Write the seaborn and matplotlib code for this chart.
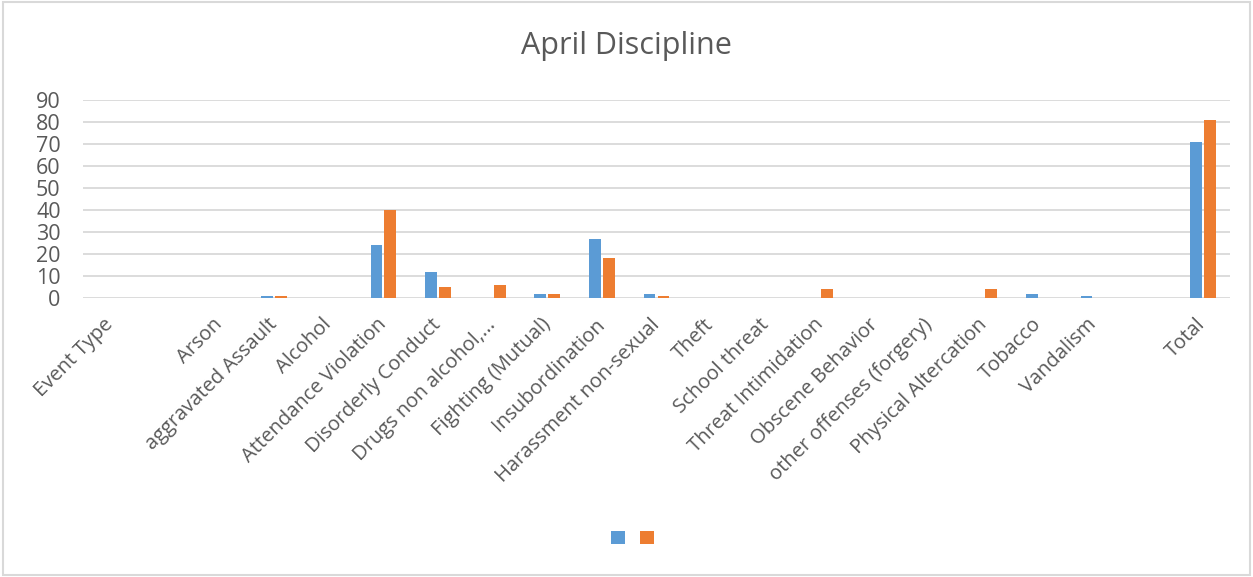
import pandas as pd
import matplotlib.pyplot as plt
import seaborn as sns
from matplotlib.patches import Rectangle, Patch

# Data
categories = ['Event Type', '', 'Arson', 'aggravated Assault', 'Alcohol',
              'Attendance Violation', 'Disorderly Conduct', 'Drugs non alcohol,...',
              'Fighting (Mutual)', 'Insubordination', 'Harassment non-sexual',
              'Theft', 'School threat', 'Threat Intimidation', 'Obscene Behavior',
              'other offenses (forgery)', 'Physical Altercation', 'Tobacco',
              'Vandalism', ' ', 'Total']
series_1 = [0, 0, 0, 1, 0, 24, 12, 0, 2, 27, 2, 0, 0, 0, 0, 0, 0, 2, 1, 0, 71]
series_2 = [0, 0, 0, 1, 0, 40, 5, 6, 2, 18, 1, 0, 0, 4, 0, 0, 4, 0, 0, 0, 81]
y_ticks = [0, 10, 20, 30, 40, 50, 60, 70, 80, 90]

colors = ['#5B9BD5', '#ED7D31']
text_color = '#595959'
grid_color = '#D9D9D9'

df = pd.DataFrame({'Category': categories * 2,
                   'Count': series_1 + series_2,
                   'Series': ['s1'] * len(categories) + ['s2'] * len(categories)})

sns.set_style('white')
plt.rcParams['font.family'] = ['Open Sans', 'DejaVu Sans']

fig = plt.figure(figsize=(12.53, 5.77), dpi=100)
ax = fig.add_axes([0.0662, 0.4835, 0.9155, 0.3432])

sns.barplot(data=df, x='Category', y='Count', hue='Series', order=categories,
            palette=colors, width=0.51, gap=0.15, ax=ax, legend=False,
            saturation=1, edgecolor='none')

ax.set_ylim(0, 90)
ax.set_yticks(y_ticks)
ax.set_xlim(-0.5, len(categories) - 0.5)
ax.yaxis.grid(True, color=grid_color, linewidth=1.3)
ax.set_axisbelow(True)
for s in ax.spines.values():
    s.set_visible(False)
ax.set_xlabel('')
ax.set_ylabel('')
ax.tick_params(axis='both', length=0, colors=text_color)
ax.tick_params(axis='y', labelsize=15.5, pad=16)
ax.tick_params(axis='x', pad=17)
ax.set_xticks(range(len(categories)))
ax.set_xticklabels(categories, rotation=45, ha='right', va='center',
                   rotation_mode='anchor', fontsize=14.5, color=text_color)

fig.text(0.5, 0.921, 'April Discipline', ha='center', va='center',
         fontsize=22, color=text_color)

handles = [Patch(facecolor=c, edgecolor='none') for c in colors]
fig.legend(handles, ['', ''], loc='center', bbox_to_anchor=(0.505, 0.066), ncol=2,
           frameon=False, handlelength=1.0, handleheight=1.0, columnspacing=1.1,
           handletextpad=0.0)

fig.patches.append(Rectangle((0.002, 0.003), 0.996, 0.994, transform=fig.transFigure,
                             fill=False, edgecolor=grid_color, linewidth=1.5))

plt.savefig('out.png', dpi=100)
